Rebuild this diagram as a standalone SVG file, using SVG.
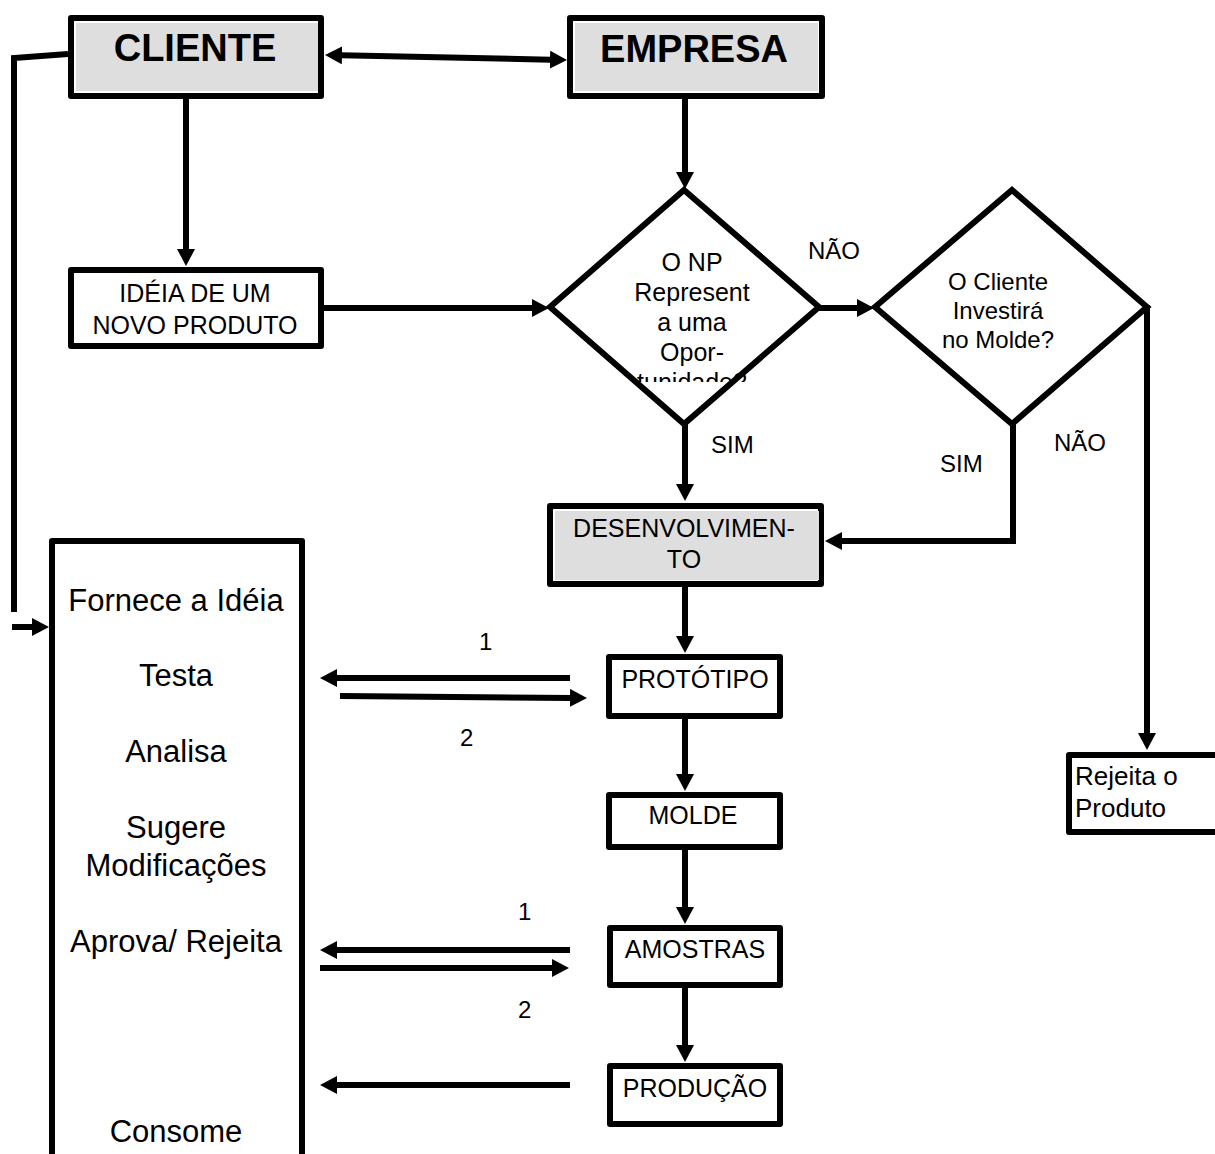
<svg xmlns="http://www.w3.org/2000/svg" width="1215" height="1154" viewBox="0 0 1215 1154">
  <style>
    .box { fill: #ffffff; stroke: #000000; stroke-width: 6; stroke-linejoin: round; }
    .shade { fill: #dedede; stroke: none; }
    .dia { fill: #ffffff; stroke: #000000; stroke-width: 6; stroke-linejoin: miter; }
    .wire { fill: none; stroke: #000000; stroke-width: 6; }
    .arrow { marker-end: url(#head); }
    .both { marker-start: url(#head); marker-end: url(#head); }
    text { font-family: "Liberation Sans", Arial, sans-serif; fill: #000000; }
    .title { font-size: 38px; font-weight: bold; text-anchor: middle; }
    .lbl { font-size: 25px; text-anchor: middle; }
    .big { font-size: 31px; text-anchor: middle; }
    .tag { font-size: 24px; }
    .side { font-size: 26px; }
  </style>
  <defs>
    <marker id="head" markerUnits="userSpaceOnUse" markerWidth="18" markerHeight="18" refX="1" refY="9" orient="auto-start-reverse" viewBox="0 0 18 18">
      <path d="M0,0 L17,9 L0,18 Z" fill="#000000"/>
    </marker>
    <clipPath id="d1clip">
      <rect x="600" y="230" width="180" height="152"/>
    </clipPath>
  </defs>

  <!-- connectors -->
  <g id="connectors">
    <line class="wire both" x1="341" y1="55.3" x2="551" y2="59.7"/>
    <line class="wire arrow" x1="186" y1="99" x2="186" y2="250"/>
    <line class="wire arrow" x1="685" y1="99" x2="685" y2="173"/>
    <line class="wire arrow" x1="324" y1="308" x2="533" y2="308"/>
    <line class="wire arrow" x1="819" y1="308" x2="858" y2="308"/>
    <line class="wire arrow" x1="685" y1="424" x2="685" y2="485"/>
    <polyline class="wire arrow" points="1013,422 1013,541 841,541"/>
    <line class="wire arrow" x1="1147" y1="305" x2="1147" y2="734"/>
    <line class="wire arrow" x1="685" y1="587" x2="685" y2="637"/>
    <line class="wire arrow" x1="685" y1="719" x2="685" y2="775"/>
    <line class="wire arrow" x1="685" y1="850" x2="685" y2="908"/>
    <line class="wire arrow" x1="685" y1="988" x2="685" y2="1046"/>
    <polyline class="wire" points="68,54 14,58 14,612"/>
    <line class="wire arrow" x1="12" y1="627" x2="33" y2="627"/>
    <line class="wire arrow" x1="570" y1="678" x2="336" y2="678"/>
    <line class="wire arrow" x1="340" y1="696" x2="571" y2="697.9"/>
    <line class="wire arrow" x1="570" y1="950" x2="336" y2="950"/>
    <line class="wire arrow" x1="320" y1="968" x2="553" y2="968"/>
    <line class="wire arrow" x1="570" y1="1085" x2="336" y2="1085"/>
  </g>

  <!-- branch labels -->
  <g id="labels">
    <text class="tag" x="808" y="259">NÃO</text>
    <text class="tag" x="711" y="453">SIM</text>
    <text class="tag" x="940" y="472">SIM</text>
    <text class="tag" x="1054" y="451">NÃO</text>
    <text class="tag" x="479" y="650">1</text>
    <text class="tag" x="460" y="746">2</text>
    <text class="tag" x="518" y="920">1</text>
    <text class="tag" x="518" y="1018">2</text>
  </g>

  <g id="cliente">
    <rect class="box" x="71" y="18" width="250" height="78"/>
    <rect class="shade" x="76" y="23" width="242" height="68"/>
    <text class="title" x="195" y="61">CLIENTE</text>
  </g>

  <g id="empresa">
    <rect class="box" x="570" y="18" width="252" height="78"/>
    <rect class="shade" x="575" y="23" width="243" height="68"/>
    <text class="title" x="694" y="62">EMPRESA</text>
  </g>

  <g id="ideia">
    <rect class="box" x="71" y="270" width="250" height="76"/>
    <text class="lbl" x="195" y="302">IDÉIA DE UM</text>
    <text class="lbl" x="195" y="334">NOVO PRODUTO</text>
  </g>

  <g id="oportunidade">
    <polygon class="dia" points="684,190 819,307 684,424 550,307"/>
    <g clip-path="url(#d1clip)">
      <text class="lbl" x="692" y="271">O NP</text>
      <text class="lbl" x="692" y="301">Represent</text>
      <text class="lbl" x="692" y="331">a uma</text>
      <text class="lbl" x="692" y="361">Opor-</text>
      <text class="lbl" x="692" y="391">tunidade?</text>
    </g>
  </g>

  <g id="investimento">
    <polygon class="dia" points="1012,190 1147,307 1012,424 875,307"/>
    <text class="tag" x="998" y="290" text-anchor="middle">O Cliente</text>
    <text class="tag" x="998" y="319" text-anchor="middle">Investirá</text>
    <text class="tag" x="998" y="348" text-anchor="middle">no Molde?</text>
  </g>

  <g id="desenvolvimento">
    <rect class="box" x="550" y="506" width="271" height="78"/>
    <rect class="shade" x="555" y="511" width="264" height="69"/>
    <text class="lbl" x="684" y="537">DESENVOLVIMEN-</text>
    <text class="lbl" x="684" y="568">TO</text>
  </g>

  <g id="prototipo">
    <rect class="box" x="609" y="657" width="171" height="59"/>
    <text class="lbl" x="695" y="688">PROTÓTIPO</text>
  </g>

  <g id="molde">
    <rect class="box" x="609" y="795" width="171" height="52"/>
    <text class="lbl" x="693" y="824">MOLDE</text>
  </g>

  <g id="amostras">
    <rect class="box" x="610" y="928" width="170" height="57"/>
    <text class="lbl" x="695" y="958">AMOSTRAS</text>
  </g>

  <g id="producao">
    <rect class="box" x="610" y="1066" width="170" height="58"/>
    <text class="lbl" x="695" y="1097">PRODUÇÃO</text>
  </g>

  <g id="rejeita">
    <path class="box" d="M1225,755 H1069 V832 H1225"/>
    <text class="side" x="1075" y="785">Rejeita o</text>
    <text class="side" x="1075" y="817">Produto</text>
  </g>

  <g id="cliente-papel">
    <path class="box" d="M52,1160 V541 H302 V1160"/>
    <text class="big" x="176" y="611">Fornece a Idéia</text>
    <text class="big" x="176" y="686">Testa</text>
    <text class="big" x="176" y="762">Analisa</text>
    <text class="big" x="176" y="838">Sugere</text>
    <text class="big" x="176" y="876">Modificações</text>
    <text class="big" x="176" y="952">Aprova/ Rejeita</text>
    <text class="big" x="176" y="1142">Consome</text>
  </g>
</svg>
